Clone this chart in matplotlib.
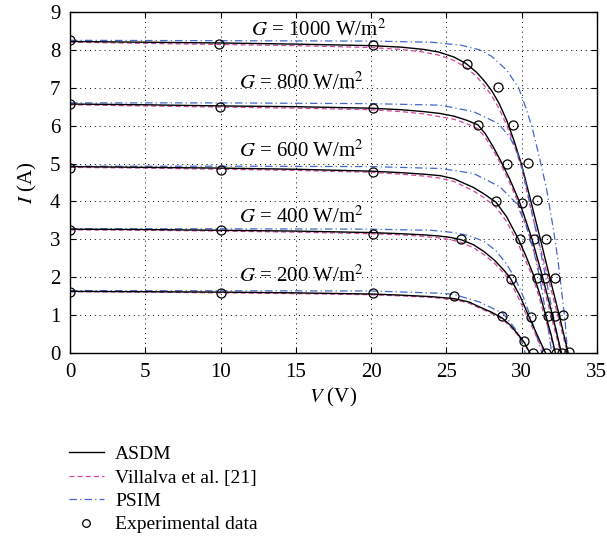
import matplotlib
matplotlib.use('Agg')
import matplotlib.pyplot as plt
from matplotlib.lines import Line2D

irradiances = [1000, 800, 600, 400, 200]

# ASDM model curves (V, I)
asdm_v = {
    1000: [0, 5, 10, 15, 20, 22, 23.5, 24.5, 25.5, 26.3, 27, 27.5, 28, 28.5, 29, 29.5, 30, 30.62, 31.25, 31.87, 32.5, 33.1],
    800: [0, 5, 10, 15, 20, 22, 23.5, 24.6, 25.5, 26.3, 27.1, 27.6, 28.1, 28.6, 29.2, 29.85, 30.7, 31.4, 32.05, 32.65],
    600: [0, 5, 10, 15, 20, 22, 23.5, 24.6, 25.5, 26.8, 27.5, 28.3, 29.0, 29.8, 30.3, 30.85, 31.25, 31.6, 31.95, 32.25],
    400: [0, 5, 10, 15, 20, 22, 23.5, 24.5, 25.3, 26.0, 26.8, 27.5, 28.2, 28.8, 29.25, 29.9, 30.45, 30.9, 31.3, 31.6],
    200: [0, 5, 10, 15, 20, 22, 24, 25.5, 26.5, 27.2, 28, 28.7, 29.3, 29.8, 30.2, 30.55],
}
asdm_i = {
    1000: [8.22, 8.20, 8.18, 8.15, 8.11, 8.07, 8.01, 7.94, 7.81, 7.64, 7.41, 7.19, 6.93, 6.59, 6.15, 5.60, 4.97, 4.0, 3.0, 2.0, 1.0, 0.0],
    800: [6.57, 6.55, 6.52, 6.50, 6.46, 6.42, 6.37, 6.32, 6.25, 6.15, 6.02, 5.78, 5.45, 5.08, 4.6, 4.0, 3.0, 2.0, 1.0, 0.0],
    600: [4.92, 4.90, 4.88, 4.85, 4.80, 4.76, 4.72, 4.68, 4.60, 4.37, 4.20, 3.98, 3.60, 3.0, 2.55, 2.0, 1.5, 1.0, 0.5, 0.0],
    400: [3.27, 3.26, 3.24, 3.22, 3.18, 3.15, 3.12, 3.09, 3.05, 2.99, 2.86, 2.68, 2.45, 2.2, 1.98, 1.5, 1.0, 0.6, 0.25, 0.0],
    200: [1.63, 1.62, 1.61, 1.59, 1.56, 1.53, 1.49, 1.44, 1.35, 1.22, 1.08, 0.93, 0.72, 0.48, 0.27, 0.0],
}

# Villalva et al. [21]
vil_v = {
    1000: [0, 5, 10, 15, 20, 22, 23.5, 24.5, 25.5, 26.3, 27, 27.5, 28, 28.5, 29, 29.5, 30, 30.5, 31.1, 31.75, 32.4, 33.05],
    800: [0, 5, 10, 15, 20, 22, 23.5, 25.5, 26.3, 27.1, 27.6, 28.1, 28.6, 29.2, 29.75, 30.6, 31.3, 31.95, 32.6],
    600: [0, 5, 10, 15, 20, 22, 23.5, 24.5, 25.5, 26.8, 27.5, 28.3, 29.0, 29.7, 30.2, 30.75, 31.15, 31.5, 31.9, 32.2],
    400: [0, 5, 10, 15, 20, 22, 23.5, 24.5, 25.3, 26.0, 26.8, 27.5, 28.2, 28.8, 29.2, 29.8, 30.35, 30.8, 31.2, 31.55],
    200: [0, 5, 10, 15, 20, 22, 24, 25.5, 26.5, 27.2, 28, 28.7, 29.3, 29.8, 30.2, 30.5],
}
vil_i = {
    1000: [8.20, 8.17, 8.14, 8.11, 8.06, 8.01, 7.94, 7.86, 7.72, 7.54, 7.30, 7.07, 6.80, 6.45, 6.02, 5.50, 4.88, 4.0, 3.0, 2.0, 1.0, 0.0],
    800: [6.55, 6.52, 6.49, 6.46, 6.42, 6.37, 6.31, 6.17, 6.06, 5.92, 5.68, 5.36, 5.0, 4.5, 4.0, 3.0, 2.0, 1.0, 0.0],
    600: [4.90, 4.88, 4.85, 4.82, 4.77, 4.72, 4.67, 4.62, 4.53, 4.28, 4.10, 3.85, 3.47, 2.95, 2.5, 2.0, 1.5, 1.0, 0.5, 0.0],
    400: [3.25, 3.24, 3.22, 3.19, 3.15, 3.12, 3.08, 3.04, 2.99, 2.92, 2.78, 2.60, 2.37, 2.12, 1.92, 1.45, 0.98, 0.6, 0.25, 0.0],
    200: [1.62, 1.61, 1.59, 1.57, 1.54, 1.51, 1.47, 1.41, 1.32, 1.19, 1.05, 0.90, 0.68, 0.45, 0.25, 0.0],
}

# PSIM
psim_v = {
    1000: [0, 10, 20, 24, 26, 27.2, 28, 29, 29.8, 30.3, 30.7, 31.1, 31.65, 32.1, 32.4, 32.7, 32.9, 33.05],
    800: [0, 10, 20, 24.6, 26.8, 28.44, 29.2, 29.7, 30.1, 30.45, 30.8, 31.1, 31.6, 32.1, 32.6],
    600: [0, 10, 20, 24.6, 26.8, 28.55, 29.66, 30.33, 30.8, 31.2, 31.55, 31.8, 32.0],
    400: [0, 10, 20, 24, 25.5, 26.5, 27.5, 28.3, 29.0, 29.6, 30.1, 30.6, 31.0, 31.35],
    200: [0, 10, 20, 24.6, 25.5, 27.2, 28.77, 29.66, 30.0, 30.25],
}
psim_i = {
    1000: [8.25, 8.24, 8.23, 8.20, 8.12, 8.0, 7.83, 7.47, 7.0, 6.45, 5.95, 5.3, 4.35, 3.3, 2.5, 1.5, 0.8, 0.0],
    800: [6.60, 6.60, 6.58, 6.54, 6.37, 6.06, 5.71, 5.3, 4.8, 4.15, 3.5, 3.0, 2.0, 1.0, 0.0],
    600: [4.93, 4.93, 4.92, 4.87, 4.74, 4.39, 3.95, 3.33, 2.7, 2.0, 1.2, 0.55, 0.0],
    400: [3.28, 3.28, 3.27, 3.24, 3.18, 3.10, 2.95, 2.70, 2.35, 1.95, 1.5, 0.95, 0.45, 0.0],
    200: [1.65, 1.645, 1.64, 1.58, 1.55, 1.35, 1.05, 0.6, 0.3, 0.0],
}

# experimental data
exp_v = {
    1000: [0, 9.9, 20.1, 26.35, 28.4, 29.45, 30.4, 31.0, 31.65, 32.25, 32.75, 33.15],
    800: [0, 9.95, 20.1, 27.1, 29.0, 30.0, 30.85, 31.55, 32.2, 32.7],
    600: [0, 10.0, 20.1, 28.3, 29.9, 31.0, 31.77, 32.3],
    400: [0, 10.0, 20.1, 26.0, 29.28, 30.6, 31.65],
    200: [0, 10.0, 20.1, 25.5, 28.7, 30.17, 30.75],
}
exp_i = {
    1000: [8.25, 8.15, 8.13, 7.63, 7.02, 6.03, 5.02, 4.03, 3.02, 1.98, 1.0, 0.02],
    800: [6.57, 6.48, 6.46, 6.02, 5.0, 3.95, 3.0, 1.98, 0.97, 0.0],
    600: [4.89, 4.84, 4.79, 4.0, 3.0, 1.97, 0.98, 0.0],
    400: [3.25, 3.24, 3.15, 3.0, 1.96, 0.96, 0.0],
    200: [1.62, 1.58, 1.59, 1.52, 0.97, 0.31, 0.0],
}

# label anchor (left V, baseline I)
label_pos = {1000: (12.0, 8.36), 800: (11.2, 6.96), 600: (11.2, 5.19), 400: (11.2, 3.45), 200: (11.2, 1.88)}

plt.rcParams['font.family'] = 'Liberation Serif'
plt.rcParams['mathtext.fontset'] = 'stix'

fig = plt.figure(figsize=(6.07, 5.40), dpi=100)
ax = fig.add_axes([0.1153, 0.346, 0.868, 0.632])

blue = '#4468cc'
pink = '#d2479f'
dashdot = (6, 2.5, 1, 2.5)

for g in irradiances:
    ax.plot(psim_v[g], psim_i[g], color=blue, lw=0.9, dashes=dashdot)
    ax.plot(vil_v[g], vil_i[g], color=pink, lw=0.9, dashes=(4, 2.5))
    ax.plot(asdm_v[g], asdm_i[g], color='black', lw=1.0)
    ax.plot(exp_v[g], exp_i[g], 'o', mfc='none', mec='black', ms=6.5, mew=0.9)
    lx, ly = label_pos[g]
    ax.text(lx, ly, r'$G$ = %d W/m$^2$' % g, fontsize=15, va='baseline', ha='left')

ax.set_xlim(0, 35)
ax.set_ylim(0, 9)
ax.set_xticks(range(0, 36, 5))
ax.set_yticks(range(0, 10))
ax.grid(True, color='black', linestyle=(0, (1, 4)), linewidth=0.7)
ax.tick_params(direction='in', top=True, right=True, labelsize=15, length=4, pad=7)
for s in ax.spines.values():
    s.set_linewidth(1.0)
ax.set_xlabel(r'$V$ (V)', fontsize=15, labelpad=3)
ax.set_ylabel(r'$I$ (A)', fontsize=15, labelpad=8)

handles = [
    Line2D([], [], color='black', lw=1.0),
    Line2D([], [], color=pink, lw=0.9, dashes=(4, 2.5)),
    Line2D([], [], color=blue, lw=0.9, dashes=dashdot),
    Line2D([], [], ls='none', marker='o', mfc='none', mec='black', ms=5.5, mew=0.9),
]
labels = ['ASDM', 'Villalva et al. [21]', 'PSIM', 'Experimental data']
fig.legend(handles, labels, loc='upper left', bbox_to_anchor=(0.113, 0.175), frameon=False,
           fontsize=14, handlelength=1.8, labelspacing=0.3, handletextpad=0.6,
           borderaxespad=0, borderpad=0)

fig.savefig('out.png', dpi=100)
